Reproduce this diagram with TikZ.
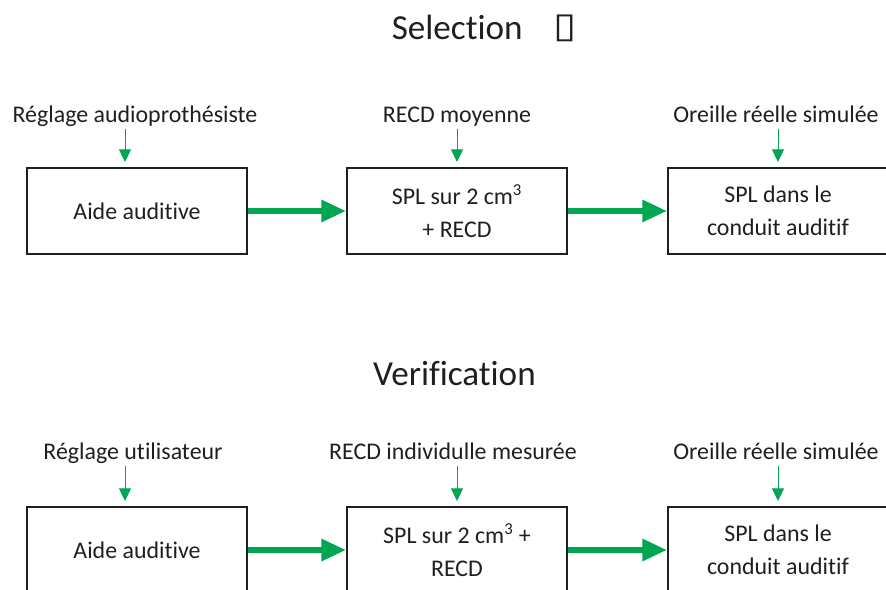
\documentclass[tikz,border=0pt]{standalone}
\usepackage{fontspec}
\setmainfont[Ligatures={NoCommon}]{Carlito}
\newfontfamily\symbfont{DejaVu Sans}
\usetikzlibrary{arrows.meta}
\definecolor{audgreen}{RGB}{0,166,81}

\begin{document}
\begin{tikzpicture}[font=\fontsize{17}{23.5}\selectfont, text=black!88,
	stage/.style={draw=black!88, line width=1.5pt, minimum width=5.5cm, minimum height=2.15cm, align=center, inner sep=0pt},
	input/.style={anchor=base, inner sep=0pt, text depth=4pt},
	heading/.style={anchor=base, inner sep=0pt, font=\fontsize{25}{30}\selectfont},
	feed/.style={audgreen, line width=0.7pt, shorten >=3.5pt, -{Triangle[length=9pt,width=8.5pt]}},
	flow/.style={audgreen, line width=4pt, -{Triangle[length=17.5pt,width=15pt]}}]
	\clip (0,0) rectangle (22.15,14.725);
	\node[heading] (sel) at (11.43,13.725) {Selection};
	\node[heading, font=\symbfont\fontsize{25}{30}\selectfont, transform shape, xscale=1.2] (tofu) at (14.125,13.775) {▯};
	\node[input] (regl1) at (3.375,11.65) {Réglage audioprothésiste};
	\node[input] (recd1) at (11.425,11.65) {RECD moyenne};
	\node[input] (oreil1) at (19.4,11.65) {Oreille réelle simulée};
	\node[stage] (aide1) at (3.425,9.45) {Aide auditive};
	\node[stage] (spl1) at (11.425,9.45) {SPL sur 2 cm\textsuperscript{3}\\+ RECD};
	\node[stage] (cond1) at (19.45,9.45) {SPL dans le\\conduit auditif};
	\draw[feed] ([xshift=-3mm]aide1.north |- regl1.south) -- ([xshift=-3mm]aide1.north);
	\draw[feed] (spl1.north |- recd1.south) -- (spl1.north);
	\draw[feed] (cond1.north |- oreil1.south) -- (cond1.north);
	\draw[flow] (aide1) -- (spl1);
	\draw[flow] (spl1) -- (cond1);

	\node[heading] (verif) at (11.36,5.075) {Verification};
	\node[input] (regl2) at (3.325,3.225) {Réglage utilisateur};
	\node[input] (recd2) at (11.325,3.225) {RECD individulle mesurée};
	\node[input] (oreil2) at (19.4,3.225) {Oreille réelle simulée};
	\node[stage] (aide2) at (3.425,0.975) {Aide auditive};
	\node[stage] (spl2) at (11.425,0.975) {SPL sur 2 cm\textsuperscript{3} +\\RECD};
	\node[stage] (cond2) at (19.45,0.975) {SPL dans le\\conduit auditif};
	\draw[feed] ([xshift=-3mm]aide2.north |- regl2.south) -- ([xshift=-3mm]aide2.north);
	\draw[feed] (spl2.north |- recd2.south) -- (spl2.north);
	\draw[feed] (cond2.north |- oreil2.south) -- (cond2.north);
	\draw[flow] (aide2) -- (spl2);
	\draw[flow] (spl2) -- (cond2);
\end{tikzpicture}
\end{document}
